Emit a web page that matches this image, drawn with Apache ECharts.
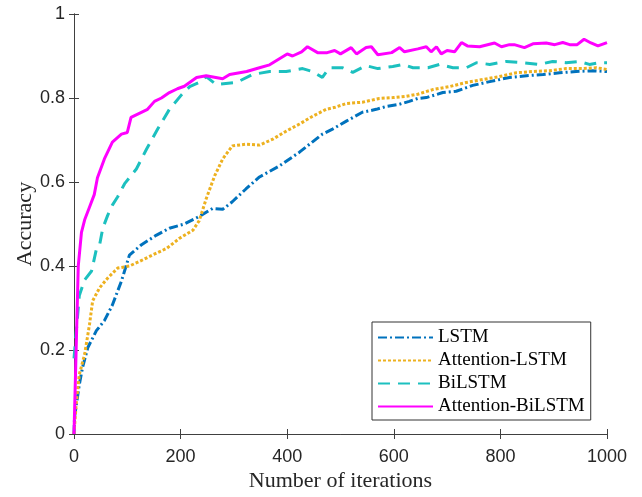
<!DOCTYPE html>
<html><head><meta charset="utf-8">
<script src="https://cdn.jsdelivr.net/npm/echarts@6/dist/echarts.min.js"></script>
<style>html,body{margin:0;padding:0;background:#fff}#c{width:642px;height:497px}</style>
</head><body><div id="c"></div>
<script>
const seriesNames = ['LSTM','Attention-LSTM','BiLSTM','Attention-BiLSTM'];
const xTicks = [0,200,400,600,800,1000];
const yTicks = [0,0.2,0.4,0.6,0.8,1];

const lstmX = [0,1,10,16,26,42,57,72,89,104,126,154,179,207,235,260,279,297,323,348,385,423,447,466,485,511,541,567,586,610,629,645,661,692,717,748,780,817,849,880,911,942,973,1000];
const lstmY = [0,0.04,0.118,0.158,0.206,0.246,0.27,0.307,0.364,0.426,0.45,0.473,0.49,0.50,0.518,0.537,0.535,0.553,0.584,0.612,0.638,0.671,0.695,0.714,0.726,0.745,0.766,0.773,0.78,0.785,0.792,0.799,0.801,0.813,0.816,0.83,0.839,0.849,0.853,0.856,0.86,0.863,0.865,0.863];

const attLstmX = [0,4,10,20,29,35,48,63,82,104,123,147,174,198,223,235,248,264,279,297,323,348,373,398,423,447,473,490,511,541,573,598,623,645,673,704,736,767,798,830,861,892,923,955,980,1000];
const attLstmY = [0,0.07,0.142,0.19,0.26,0.317,0.348,0.371,0.395,0.40,0.411,0.426,0.442,0.466,0.485,0.508,0.56,0.615,0.655,0.686,0.69,0.688,0.702,0.721,0.738,0.756,0.773,0.778,0.787,0.79,0.799,0.801,0.804,0.809,0.82,0.827,0.837,0.844,0.851,0.86,0.863,0.865,0.87,0.87,0.872,0.868];

const biX = [0,10,20,33,42,48,54,63,72,82,95,117,136,157,179,202,217,235,248,267,305,335,367,398,429,447,466,479,504,523,548,570,598,617,636,664,686,711,736,755,780,811,842,873,898,923,948,967,985,1000];
const biY = [0.18,0.33,0.367,0.388,0.44,0.45,0.49,0.52,0.545,0.565,0.596,0.631,0.678,0.726,0.773,0.808,0.827,0.837,0.851,0.832,0.837,0.856,0.863,0.863,0.87,0.863,0.849,0.872,0.872,0.861,0.877,0.87,0.875,0.88,0.872,0.872,0.88,0.872,0.872,0.884,0.88,0.887,0.884,0.88,0.887,0.884,0.887,0.88,0.884,0.884];

const attBiX = [0,4,8,14,20,29,38,44,57,72,89,100,107,138,151,164,179,194,207,230,248,279,292,324,348,367,400,410,427,438,457,475,489,500,520,530,548,558,570,596,611,620,645,661,670,680,689,700,714,727,738,761,789,802,817,826,845,861,886,902,917,930,944,957,970,983,1000];
const attBiY = [0,0.2,0.4,0.48,0.51,0.54,0.57,0.61,0.655,0.695,0.714,0.718,0.754,0.773,0.792,0.80,0.813,0.822,0.828,0.849,0.853,0.846,0.856,0.863,0.872,0.879,0.905,0.90,0.91,0.922,0.908,0.908,0.913,0.905,0.92,0.905,0.92,0.922,0.903,0.908,0.92,0.91,0.917,0.922,0.91,0.922,0.905,0.913,0.91,0.932,0.924,0.922,0.931,0.922,0.927,0.927,0.92,0.929,0.931,0.927,0.932,0.927,0.927,0.94,0.931,0.924,0.932];

const zip = (xs, ys) => xs.map((x, i) => [x, ys[i]]);

const axisCol = '#404040';
const labelFont = {fontFamily: 'Liberation Sans', fontSize: 18, color: '#262626'};
const titleFont = {fontFamily: 'Liberation Serif', fontSize: 22, color: '#262626'};

const chart = echarts.init(document.getElementById('c'), null, {renderer: 'canvas'});
chart.setOption({
  animation: false,
  backgroundColor: '#fff',
  grid: {left: 74, right: 35, top: 14, bottom: 60},
  legend: {
    orient: 'vertical', left: 372, top: 322,
    data: seriesNames,
    itemWidth: 55, itemHeight: 14, itemGap: 4,
    padding: [6, 6, 4, 5],
    borderColor: '#333', borderWidth: 1, backgroundColor: '#fff',
    itemStyle: {opacity: 0},
    textStyle: {fontFamily: 'Liberation Serif', fontSize: 19, color: '#000'}
  },
  xAxis: [{
    type: 'value', min: 0, max: 1000, interval: 200,
    name: 'Number of iterations', nameLocation: 'middle', nameGap: 36, nameMoveOverlap: false,
    nameTextStyle: titleFont,
    axisLine: {lineStyle: {color: axisCol, width: 1}},
    axisTick: {inside: true, length: 5, lineStyle: {color: axisCol}},
    axisLabel: Object.assign({margin: 14, formatter: v => String(v)}, labelFont),
    splitLine: {show: false}
  }, {
    type: 'value', min: 0, max: 1000, interval: 200, position: 'top',
    axisLine: {show: true, lineStyle: {color: axisCol, width: 1}},
    axisTick: {inside: true, length: 5, lineStyle: {color: axisCol}},
    axisLabel: {show: false}, splitLine: {show: false}
  }],
  yAxis: [{
    type: 'value', min: 0, max: 1, interval: 0.2,
    name: 'Accuracy', nameLocation: 'middle', nameGap: 38, nameRotate: 90, nameMoveOverlap: false,
    nameTextStyle: titleFont,
    axisLine: {show: true, lineStyle: {color: axisCol, width: 1}},
    axisTick: {show: true, inside: true, length: 5, lineStyle: {color: axisCol}},
    axisLabel: Object.assign({margin: 9}, labelFont),
    splitLine: {show: false}
  }, {
    type: 'value', min: 0, max: 1, interval: 0.2, position: 'right',
    axisLine: {show: true, lineStyle: {color: axisCol, width: 1}},
    axisTick: {show: true, inside: true, length: 5, lineStyle: {color: axisCol}},
    axisLabel: {show: false}, splitLine: {show: false}
  }],
  series: [
    {name: seriesNames[0], type: 'line', symbol: 'none', data: zip(lstmX, lstmY),
     color: '#0072BD', lineStyle: {color: '#0072BD', width: 3, type: [9, 3, 2, 3]}},
    {name: seriesNames[1], type: 'line', symbol: 'none', data: zip(attLstmX, attLstmY),
     color: '#EDB120', lineStyle: {color: '#EDB120', width: 3, type: [3, 2]}},
    {name: seriesNames[2], type: 'line', symbol: 'none', data: zip(biX, biY),
     color: '#1CC0BF', lineStyle: {color: '#1CC0BF', width: 3, type: [12, 8]}},
    {name: seriesNames[3], type: 'line', symbol: 'none', data: zip(attBiX, attBiY),
     color: '#FF00FF', lineStyle: {color: '#FF00FF', width: 3, type: 'solid'}}
  ]
});
</script>
</body></html>
